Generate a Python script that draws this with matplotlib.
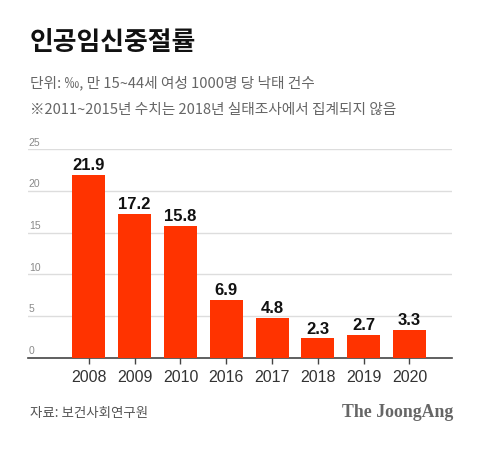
import numpy as np
from matplotlib import pyplot as plt

years = ['2008', '2009', '2010', '2016', '2017', '2018', '2019', '2020']
rates = [21.9, 17.2, 15.8, 6.9, 4.8, 2.3, 2.7, 3.3]
yticks = [0, 5, 10, 15, 20, 25]

kr = ['Noto Sans CJK KR', 'DejaVu Sans']
num = ['Liberation Sans', 'DejaVu Sans']

fig = plt.figure(figsize=(4.8, 4.52), dpi=100)
ax = fig.add_axes([0.0583, 0.2065, 0.8834, 0.4615])

x = np.arange(len(years))
ax.bar(x, rates, width=0.72, color='#ff3300', zorder=3)
for xi, v in zip(x, rates):
    ax.text(xi, v + 0.35, f'{v}', ha='center', va='bottom', fontsize=12,
            fontweight='bold', family=num, color='#111111', zorder=4)

ax.set_xlim(-1.33, 7.93)
ax.set_ylim(0, 25)
ax.set_xticks(x)
ax.set_xticklabels(years, family=num, fontsize=11.5, color='#333333')
ax.tick_params(axis='x', length=4, width=1, color='#444444', pad=4)
ax.set_yticks([])
for t in yticks:
    if t > 0:
        ax.axhline(t, color='#dddddd', lw=1, zorder=1)
    ax.text(-1.31, t + 0.3, str(t), ha='left', va='bottom', fontsize=7.5,
            family=num, color='#8a8a8a')
for s in ['top', 'right', 'left']:
    ax.spines[s].set_visible(False)
ax.spines['bottom'].set_color('#444444')
ax.spines['bottom'].set_linewidth(1.2)

fig.text(30 / 480, 1 - 43 / 452, '인공임신중절률', family=kr, fontsize=18.6,
         fontweight='heavy', color='#111111', va='center', ha='left')
fig.text(30 / 480, 1 - 83 / 452, '단위: ‰, 만 15~44세 여성 1000명 당 낙태 건수',
         family=kr, fontsize=10.6, color='#666666', va='center', ha='left')
fig.text(30 / 480, 1 - 110 / 452, '※2011~2015년 수치는 2018년 실태조사에서 집계되지 않음',
         family=kr, fontsize=10.6, color='#666666', va='center', ha='left')
fig.text(30 / 480, 1 - 413 / 452, '자료: 보건사회연구원', family=kr, fontsize=9.7,
         color='#555555', va='center', ha='left')
fig.text(453 / 480, 1 - 413 / 452, 'The JoongAng', family='Liberation Serif',
         fontsize=12.8, fontweight='bold', color='#666666', va='center', ha='right')

fig.savefig('out.png', dpi=100)
